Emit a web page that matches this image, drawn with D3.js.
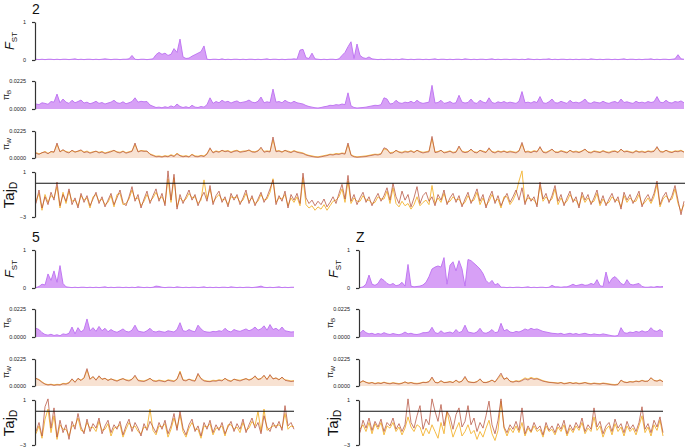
<!DOCTYPE html>
<html>
<head>
<meta charset="utf-8">
<script src="https://cdn.jsdelivr.net/npm/d3@7"></script>
<style>
body { margin: 0; background: #fff; }
svg { display: block; font-family: "Liberation Sans", Arial, sans-serif; }
.axis path, .axis line { stroke: #333; stroke-width: 1.2; }
.axis text { font-size: 5.5px; fill: #222; font-family: "Liberation Sans", Arial, sans-serif; }
</style>
</head>
<body>
<svg id="chart" width="685" height="448"></svg>
<script>
// ---- chromosome 2 ----
const fst2 = [
  0.02,0.01,0.02,0.01,0.02,0.02,0.01,0.02,0.01,0.02,
  0.02,0.01,0.02,0.03,0.01,0.02,0.01,0.02,0.02,0.01,
  0.02,0.01,0.02,0.03,0.02,0.01,0.02,0.02,0.01,0.02,
  0.02,0.03,0.12,0.02,0.01,0.02,0.02,0.01,0.02,0.03,
  0.14,0.2,0.15,0.18,0.12,0.15,0.3,0.2,0.55,0.08,
  0.04,0.05,0.1,0.14,0.18,0.22,0.37,0.02,0.01,0.02,
  0.02,0.01,0.03,0.01,0.02,0.01,0.02,0.02,0.01,0.02,
  0.01,0.02,0.02,0.01,0.02,0.01,0.02,0.03,0.01,0.02,
  0.02,0.01,0.02,0.01,0.02,0.02,0.03,0.02,0.26,0.28,
  0.06,0.04,0.18,0.03,0.02,0.01,0.02,0.01,0.02,0.02,
  0.01,0.03,0.12,0.2,0.35,0.48,0.04,0.42,0.12,0.06,
  0.04,0.08,0.03,0.02,0.01,0.02,0.01,0.02,0.02,0.01,
  0.02,0.01,0.03,0.02,0.01,0.02,0.01,0.02,0.02,0.01,
  0.02,0.01,0.02,0.03,0.01,0.02,0.02,0.01,0.02,0.01,
  0.02,0.02,0.01,0.03,0.02,0.01,0.02,0.01,0.02,0.02,
  0.01,0.02,0.03,0.01,0.02,0.01,0.02,0.02,0.01,0.02,
  0.02,0.01,0.02,0.01,0.03,0.02,0.01,0.02,0.01,0.02,
  0.02,0.03,0.01,0.02,0.01,0.02,0.02,0.01,0.02,0.01,
  0.02,0.01,0.02,0.02,0.01,0.03,0.02,0.01,0.02,0.01,
  0.02,0.02,0.01,0.02,0.01,0.02,0.03,0.01,0.02,0.02,
  0.01,0.02,0.01,0.02,0.02,0.03,0.01,0.02,0.01,0.02,
  0.02,0.01,0.02,0.03,0.14,0.03,0.02
];
const piB2 = [
  0.0040,0.0035,0.0050,0.0045,0.0038,0.0060,0.0055,0.0120,0.0050,0.0080,
  0.0055,0.0045,0.0070,0.0050,0.0060,0.0072,0.0048,0.0055,0.0042,0.0050,
  0.0062,0.0045,0.0052,0.0040,0.0048,0.0055,0.0070,0.0050,0.0045,0.0058,
  0.0042,0.0050,0.0060,0.0090,0.0055,0.0062,0.0058,0.0060,0.0032,0.0022,
  0.0012,0.0015,0.0010,0.0018,0.0012,0.0025,0.0015,0.0040,0.0020,0.0012,
  0.0018,0.0010,0.0030,0.0015,0.0012,0.0020,0.0015,0.0035,0.0090,0.0045,
  0.0060,0.0050,0.0070,0.0055,0.0062,0.0048,0.0058,0.0065,0.0050,0.0055,
  0.0060,0.0072,0.0055,0.0050,0.0062,0.0096,0.0050,0.0058,0.0052,0.0160,
  0.0055,0.0060,0.0050,0.0070,0.0055,0.0048,0.0062,0.0050,0.0045,0.0040,
  0.0028,0.0020,0.0015,0.0010,0.0008,0.0012,0.0018,0.0022,0.0030,0.0028,
  0.0035,0.0032,0.0040,0.0035,0.0130,0.0025,0.0012,0.0008,0.0010,0.0012,
  0.0015,0.0020,0.0025,0.0030,0.0028,0.0035,0.0090,0.0080,0.0040,0.0045,
  0.0070,0.0050,0.0045,0.0055,0.0050,0.0062,0.0048,0.0070,0.0052,0.0045,
  0.0050,0.0055,0.0190,0.0048,0.0052,0.0070,0.0045,0.0050,0.0060,0.0045,
  0.0050,0.0110,0.0055,0.0048,0.0052,0.0080,0.0050,0.0045,0.0070,0.0055,
  0.0048,0.0090,0.0052,0.0045,0.0058,0.0050,0.0060,0.0048,0.0055,0.0050,
  0.0045,0.0062,0.0140,0.0050,0.0055,0.0048,0.0060,0.0052,0.0100,0.0050,
  0.0045,0.0058,0.0080,0.0050,0.0048,0.0062,0.0052,0.0045,0.0070,0.0050,
  0.0055,0.0048,0.0060,0.0080,0.0050,0.0045,0.0058,0.0052,0.0048,0.0062,
  0.0050,0.0045,0.0055,0.0060,0.0048,0.0080,0.0052,0.0058,0.0050,0.0045,
  0.0062,0.0050,0.0055,0.0048,0.0060,0.0052,0.0058,0.0100,0.0055,0.0050,
  0.0070,0.0052,0.0048,0.0060,0.0055,0.0065,0.0050
];
const piW2 = [
  0.0040,0.0030,0.0045,0.0050,0.0035,0.0055,0.0048,0.0125,0.0050,0.0070,
  0.0050,0.0042,0.0065,0.0048,0.0058,0.0068,0.0045,0.0052,0.0040,0.0048,
  0.0058,0.0042,0.0050,0.0038,0.0045,0.0052,0.0065,0.0048,0.0042,0.0055,
  0.0040,0.0048,0.0055,0.0125,0.0050,0.0060,0.0055,0.0058,0.0030,0.0020,
  0.0010,0.0012,0.0008,0.0015,0.0010,0.0022,0.0012,0.0035,0.0018,0.0010,
  0.0015,0.0008,0.0028,0.0012,0.0010,0.0018,0.0012,0.0032,0.0085,0.0042,
  0.0055,0.0048,0.0065,0.0052,0.0058,0.0045,0.0055,0.0060,0.0048,0.0052,
  0.0056,0.0068,0.0050,0.0048,0.0058,0.0090,0.0048,0.0055,0.0050,0.0175,
  0.0052,0.0058,0.0048,0.0065,0.0052,0.0045,0.0058,0.0048,0.0042,0.0038,
  0.0025,0.0018,0.0012,0.0008,0.0006,0.0010,0.0015,0.0020,0.0028,0.0025,
  0.0032,0.0030,0.0038,0.0032,0.0125,0.0022,0.0010,0.0006,0.0008,0.0010,
  0.0012,0.0018,0.0022,0.0028,0.0025,0.0032,0.0085,0.0075,0.0038,0.0042,
  0.0065,0.0048,0.0042,0.0052,0.0048,0.0058,0.0045,0.0065,0.0050,0.0042,
  0.0048,0.0052,0.0180,0.0045,0.0050,0.0065,0.0042,0.0048,0.0056,0.0042,
  0.0048,0.0100,0.0052,0.0045,0.0050,0.0075,0.0048,0.0042,0.0065,0.0052,
  0.0045,0.0085,0.0050,0.0042,0.0055,0.0048,0.0056,0.0045,0.0052,0.0048,
  0.0042,0.0058,0.0130,0.0048,0.0052,0.0045,0.0056,0.0050,0.0095,0.0048,
  0.0042,0.0055,0.0075,0.0048,0.0045,0.0058,0.0050,0.0042,0.0065,0.0048,
  0.0052,0.0045,0.0056,0.0075,0.0048,0.0042,0.0055,0.0050,0.0045,0.0058,
  0.0048,0.0042,0.0052,0.0056,0.0045,0.0075,0.0050,0.0055,0.0048,0.0042,
  0.0058,0.0048,0.0052,0.0045,0.0056,0.0050,0.0055,0.0095,0.0052,0.0048,
  0.0065,0.0050,0.0045,0.0056,0.0052,0.0060,0.0048
];
const piW2Alt = [
  0.0045,0.0035,0.0042,0.0055,0.0040,0.0050,0.0052,0.0110,0.0055,0.0065,
  0.0055,0.0048,0.0060,0.0052,0.0055,0.0062,0.0050,0.0058,0.0045,0.0052,
  0.0055,0.0048,0.0055,0.0042,0.0050,0.0058,0.0060,0.0052,0.0048,0.0058,
  0.0045,0.0052,0.0060,0.0110,0.0055,0.0062,0.0060,0.0055,0.0035,0.0025,
  0.0015,0.0018,0.0012,0.0020,0.0015,0.0028,0.0018,0.0040,0.0022,0.0015,
  0.0020,0.0012,0.0032,0.0018,0.0015,0.0022,0.0018,0.0038,0.0075,0.0048,
  0.0060,0.0052,0.0060,0.0058,0.0062,0.0050,0.0060,0.0065,0.0052,0.0058,
  0.0060,0.0062,0.0055,0.0052,0.0062,0.0080,0.0055,0.0060,0.0055,0.0150,
  0.0058,0.0062,0.0052,0.0060,0.0058,0.0050,0.0062,0.0052,0.0048,0.0042,
  0.0030,0.0022,0.0018,0.0012,0.0010,0.0015,0.0020,0.0025,0.0032,0.0030,
  0.0038,0.0035,0.0042,0.0038,0.0110,0.0028,0.0015,0.0010,0.0012,0.0015,
  0.0018,0.0022,0.0028,0.0032,0.0030,0.0038,0.0075,0.0068,0.0045,0.0048,
  0.0060,0.0052,0.0048,0.0058,0.0052,0.0062,0.0050,0.0062,0.0055,0.0048,
  0.0052,0.0058,0.0160,0.0050,0.0055,0.0062,0.0048,0.0052,0.0060,0.0048,
  0.0052,0.0090,0.0058,0.0050,0.0055,0.0068,0.0052,0.0048,0.0062,0.0058,
  0.0050,0.0075,0.0055,0.0048,0.0060,0.0052,0.0060,0.0050,0.0058,0.0052,
  0.0048,0.0062,0.0115,0.0052,0.0058,0.0050,0.0062,0.0055,0.0085,0.0052,
  0.0048,0.0060,0.0070,0.0052,0.0050,0.0062,0.0055,0.0048,0.0062,0.0052,
  0.0058,0.0050,0.0060,0.0070,0.0052,0.0048,0.0060,0.0055,0.0050,0.0062,
  0.0052,0.0048,0.0058,0.0060,0.0050,0.0070,0.0055,0.0060,0.0052,0.0048,
  0.0062,0.0052,0.0058,0.0050,0.0060,0.0055,0.0060,0.0085,0.0058,0.0052,
  0.0062,0.0055,0.0050,0.0060,0.0058,0.0065,0.0052
];
const taj2 = [
  -1.8,-0.6,-2.2,-1.2,-1.9,-0.8,-1.5,0.1,-2.0,-1.0,
  -1.6,-0.5,-1.9,-1.3,-2.2,-0.9,-1.7,-1.1,-2.0,-1.4,
  -0.8,-1.8,-1.2,-2.1,-1.5,-0.9,-1.9,-1.3,-0.6,-1.7,
  -2.0,-1.2,-0.3,-1.6,-1.0,-2.2,-1.4,-0.7,-1.8,-1.1,
  -0.5,-1.6,-0.9,-2.0,1.1,-1.5,0.8,-2.3,-1.0,-1.8,
  -1.2,-0.6,-1.5,-1.0,-2.0,-1.3,-0.8,-1.6,-0.2,-1.9,
  -1.1,-0.7,-1.7,-1.2,-2.1,-0.9,-1.5,-1.0,-1.9,-1.3,
  -0.6,-1.8,-1.1,-2.0,-1.4,-0.8,-1.7,-1.2,-0.5,0.3,
  -1.9,-1.1,-1.6,-0.7,-2.2,-1.0,-1.5,-0.9,-1.8,0.9,
  -1.3,-1.8,-1.5,-2.0,-1.6,-1.9,-1.4,-2.1,-1.7,-1.2,
  -1.8,-0.9,-0.1,-1.4,0.7,-1.6,-1.0,-1.9,-1.3,-0.8,
  -1.7,-1.2,-2.0,-1.4,-0.9,-1.6,-1.1,-0.4,-1.5,0.0,
  -1.2,-1.8,-0.7,-1.5,-1.0,-2.1,-1.3,-0.3,-1.8,-1.1,
  -0.8,-1.6,-1.2,-2.0,-1.0,-1.5,-0.6,-1.9,-1.3,-0.9,
  -1.7,-1.1,-2.1,-1.4,-0.8,-1.8,-1.2,-0.5,-1.6,-1.0,
  -2.2,-1.3,-0.7,-1.8,-1.1,-2.0,-1.4,-0.9,-1.7,-1.2,
  -0.6,-1.5,-0.4,-1.9,-1.0,-1.6,-1.2,-2.1,0.1,-1.4,
  -0.9,-1.8,-1.1,-0.2,-1.6,-1.0,-2.0,-1.3,-0.7,-1.7,
  -1.2,-2.2,-0.8,-1.5,-1.0,-1.9,-1.3,-0.6,-1.8,-1.1,
  -2.0,-1.4,-0.9,-1.7,-1.2,-2.3,-0.8,-1.5,-1.0,-1.8,
  -1.3,-0.7,-2.1,-1.4,-1.0,-1.6,-0.9,0.2,-1.9,-1.2,
  -0.8,-1.7,-1.1,-0.2,-1.5,-2.8,-1.6
];
const taj2Alt = [
  -1.6,-0.9,-2.4,-1.0,-1.7,-1.1,-1.3,-0.3,-2.2,-0.8,
  -1.8,-0.7,-1.6,-1.5,-2.0,-1.1,-1.5,-1.3,-2.2,-1.2,
  -1.0,-1.6,-1.4,-1.9,-1.7,-1.1,-2.1,-1.0,-0.9,-1.9,
  -1.8,-1.4,-0.6,-1.4,-1.3,-2.0,-1.6,-1.0,-1.6,-1.3,
  -0.8,-1.4,-1.2,-1.8,0.4,-1.7,0.5,-2.1,-1.3,-1.6,
  -1.4,-0.9,-1.3,-1.2,-1.8,-1.5,0.3,-1.4,-0.5,-1.7,
  -1.3,-1.0,-1.5,-1.4,-1.9,-1.2,-1.3,-1.2,-1.7,-1.5,
  -0.9,-1.6,-1.3,-1.8,-1.6,-1.0,-1.5,-1.4,-0.8,0.4,
  -1.7,-1.3,-1.4,-1.0,-2.0,-1.3,-1.7,-1.2,-2.0,0.5,
  -1.9,-2.2,-2.0,-2.4,-2.1,-2.3,-1.9,-2.4,-2.0,-1.6,
  -1.5,-1.2,-0.5,-1.7,0.2,-1.8,-1.3,-1.6,-1.6,-1.1,
  -1.5,-1.5,-1.8,-1.7,-1.2,-1.4,-1.4,-0.7,-1.8,-0.4,
  -1.8,-2.1,-1.6,-2.0,-1.8,-2.3,-1.9,-1.2,-2.0,-1.7,
  -1.5,-1.9,-0.2,-1.8,-1.3,-1.7,-0.9,-1.7,-1.6,-1.2,
  -1.5,-1.4,-1.9,-1.7,-1.1,-1.6,-1.5,-0.8,-1.9,-1.3,
  -2.0,-1.6,-1.0,-1.6,-1.4,-2.2,-1.2,-1.2,-1.9,-1.5,
  -0.9,0.2,1.1,-1.7,-1.3,-1.4,-1.5,-1.9,-0.2,-1.6,
  -1.2,-1.6,-1.4,-0.5,-1.9,-1.3,-1.8,-1.6,-1.0,-1.5,
  -1.5,-2.0,-1.1,-1.7,-1.3,-1.7,-1.6,-0.9,-2.0,-1.4,
  -1.8,-1.7,-1.2,-1.5,-1.5,-2.1,-1.1,-1.7,-1.3,-1.6,
  -1.6,-1.0,-1.9,-1.7,-1.3,-1.8,-1.2,-0.1,-2.1,-1.4,
  -1.1,-1.5,-1.4,-0.5,-1.8,-2.5,-1.9
];

// ---- chromosome 5 ----
const fst5 = [
  0.01,0.04,0.1,0.08,0.37,0.2,0.45,0.15,0.59,0.12,
  0.03,0.02,0.01,0.02,0.01,0.02,0.02,0.01,0.02,0.01,
  0.02,0.01,0.02,0.03,0.01,0.02,0.01,0.02,0.02,0.01,
  0.02,0.01,0.02,0.01,0.03,0.02,0.01,0.02,0.01,0.02,
  0.05,0.04,0.02,0.01,0.02,0.02,0.01,0.03,0.02,0.01,
  0.02,0.01,0.02,0.02,0.01,0.02,0.03,0.01,0.02,0.01,
  0.02,0.01,0.02,0.02,0.01,0.03,0.02,0.01,0.02,0.01,
  0.02,0.02,0.01,0.02,0.03,0.05,0.02,0.01,0.02,0.01,
  0.02,0.03,0.01,0.02,0.01,0.02,0.02
];
const piB5 = [
  0.0070,0.0060,0.0035,0.0020,0.0015,0.0022,0.0012,0.0018,0.0010,0.0025,
  0.0020,0.0030,0.0080,0.0025,0.0075,0.0040,0.0060,0.0145,0.0050,0.0075,
  0.0045,0.0085,0.0050,0.0070,0.0042,0.0060,0.0045,0.0038,0.0050,0.0065,
  0.0045,0.0040,0.0055,0.0095,0.0048,0.0042,0.0038,0.0050,0.0070,0.0045,
  0.0040,0.0048,0.0042,0.0038,0.0050,0.0045,0.0040,0.0060,0.0115,0.0050,
  0.0045,0.0060,0.0048,0.0042,0.0095,0.0065,0.0045,0.0040,0.0038,0.0045,
  0.0042,0.0050,0.0045,0.0070,0.0048,0.0040,0.0060,0.0050,0.0045,0.0055,
  0.0065,0.0050,0.0060,0.0080,0.0055,0.0065,0.0090,0.0055,0.0100,0.0060,
  0.0070,0.0052,0.0080,0.0050,0.0045,0.0040,0.0042
];
const piW5 = [
  0.0065,0.0050,0.0030,0.0015,0.0008,0.0012,0.0005,0.0010,0.0008,0.0018,
  0.0015,0.0025,0.0060,0.0030,0.0065,0.0045,0.0070,0.0145,0.0055,0.0080,
  0.0048,0.0085,0.0055,0.0065,0.0045,0.0060,0.0048,0.0040,0.0052,0.0062,
  0.0048,0.0042,0.0055,0.0090,0.0045,0.0040,0.0038,0.0048,0.0065,0.0042,
  0.0038,0.0045,0.0040,0.0035,0.0048,0.0042,0.0038,0.0058,0.0115,0.0048,
  0.0042,0.0058,0.0045,0.0040,0.0105,0.0060,0.0042,0.0038,0.0036,0.0042,
  0.0040,0.0048,0.0042,0.0065,0.0045,0.0038,0.0058,0.0048,0.0042,0.0052,
  0.0062,0.0048,0.0058,0.0085,0.0052,0.0062,0.0090,0.0052,0.0095,0.0058,
  0.0068,0.0050,0.0075,0.0048,0.0042,0.0038,0.0040
];
const piW5Alt = [
  0.0060,0.0055,0.0035,0.0018,0.0012,0.0015,0.0010,0.0014,0.0012,0.0022,
  0.0020,0.0030,0.0055,0.0035,0.0060,0.0050,0.0065,0.0130,0.0060,0.0075,
  0.0052,0.0078,0.0058,0.0062,0.0050,0.0058,0.0052,0.0045,0.0055,0.0060,
  0.0052,0.0048,0.0058,0.0080,0.0050,0.0045,0.0042,0.0052,0.0060,0.0048,
  0.0042,0.0050,0.0045,0.0040,0.0052,0.0048,0.0042,0.0055,0.0125,0.0052,
  0.0048,0.0055,0.0050,0.0045,0.0095,0.0065,0.0048,0.0042,0.0040,0.0048,
  0.0045,0.0052,0.0048,0.0060,0.0050,0.0042,0.0055,0.0052,0.0048,0.0055,
  0.0060,0.0052,0.0062,0.0078,0.0058,0.0060,0.0085,0.0058,0.0088,0.0062,
  0.0065,0.0055,0.0070,0.0052,0.0048,0.0042,0.0045
];
const taj5 = [
  -1.8,-1.0,-2.2,0.4,1.1,-1.5,0.3,-2.3,-0.8,-1.9,
  -1.2,-2.5,-0.9,-1.6,-0.2,-1.4,-2.0,-0.7,-1.8,-1.1,
  -1.5,-0.6,-2.0,-1.3,-0.8,-1.9,-1.2,-1.6,-0.9,-2.1,
  -1.3,-0.7,-1.8,-1.0,-1.5,-2.2,-1.1,-1.7,-0.9,-1.4,
  -1.9,-1.0,-1.6,-0.8,-2.0,-1.3,-0.2,-1.7,0.0,-1.5,
  -2.1,-1.2,-0.7,-1.8,-1.3,-2.2,-1.0,-1.6,-0.8,-1.9,
  -1.2,-1.7,-1.0,-2.0,-1.4,-0.9,-1.8,-1.1,-1.6,-0.7,
  -1.9,-1.2,-0.6,-1.5,-1.0,-2.0,-0.4,-1.4,-1.8,-1.0,
  -1.5,-0.9,-1.7,0.5,-1.3,-1.0,-1.6
];
const taj5Alt = [
  -2.0,-1.3,-2.4,-0.7,0.2,-1.9,-0.4,-2.5,-1.2,-1.6,
  -1.6,-2.2,-1.3,-1.3,-0.6,-1.7,-1.8,-1.0,-1.5,-1.4,
  -1.8,-0.9,-1.7,-1.6,-1.1,-2.2,-1.5,-1.4,-1.2,-2.3,
  -1.6,-1.0,-1.5,-1.3,-1.8,-2.0,-1.4,-1.5,0.2,-1.7,
  -2.1,-1.3,-1.4,-1.1,-2.3,-1.6,-0.6,-1.5,-0.3,-1.8,
  -2.3,-1.5,-1.0,-1.6,-1.6,-2.4,-1.3,-1.4,-1.1,-2.1,
  -1.5,-1.5,-1.3,-2.2,-1.2,-1.2,-1.6,-1.4,-1.9,-1.0,
  -1.7,-1.5,-0.9,-1.3,0.0,-1.8,0.2,-1.7,-1.5,-1.3,
  -1.3,-1.2,-1.5,-0.2,-1.6,-1.3,-1.4
];

// ---- chromosome Z ----
const fstZ = [
  0.01,0.03,0.1,0.34,0.1,0.07,0.12,0.25,0.2,0.12,
  0.08,0.12,0.06,0.08,0.15,0.05,0.62,0.05,0.03,0.04,
  0.05,0.08,0.15,0.3,0.5,0.55,0.58,0.55,0.8,0.1,
  0.6,0.69,0.45,0.72,0.5,0.05,0.75,0.72,0.65,0.58,
  0.5,0.38,0.2,0.12,0.2,0.08,0.12,0.02,0.02,0.01,
  0.02,0.01,0.02,0.02,0.01,0.02,0.03,0.01,0.02,0.01,
  0.02,0.02,0.01,0.02,0.07,0.03,0.03,0.02,0.03,0.03,
  0.06,0.1,0.06,0.08,0.1,0.07,0.08,0.12,0.09,0.22,
  0.06,0.04,0.42,0.12,0.25,0.3,0.22,0.12,0.08,0.22,
  0.1,0.08,0.1,0.12,0.04,0.02,0.02,0.03,0.02,0.04,
  0.03,0.04
];
const piBZ = [
  0.0030,0.0055,0.0035,0.0025,0.0030,0.0020,0.0028,0.0022,0.0035,0.0025,
  0.0020,0.0028,0.0022,0.0018,0.0025,0.0040,0.0025,0.0030,0.0022,0.0020,
  0.0025,0.0035,0.0035,0.0040,0.0078,0.0035,0.0028,0.0050,0.0030,0.0035,
  0.0040,0.0030,0.0060,0.0035,0.0045,0.0095,0.0040,0.0035,0.0030,0.0040,
  0.0070,0.0035,0.0030,0.0040,0.0060,0.0035,0.0040,0.0110,0.0050,0.0060,
  0.0040,0.0035,0.0045,0.0040,0.0050,0.0065,0.0055,0.0070,0.0060,0.0065,
  0.0055,0.0045,0.0040,0.0035,0.0030,0.0028,0.0025,0.0030,0.0020,0.0025,
  0.0030,0.0022,0.0028,0.0020,0.0025,0.0030,0.0022,0.0018,0.0025,0.0020,
  0.0018,0.0025,0.0020,0.0015,0.0010,0.0008,0.0012,0.0075,0.0035,0.0030,
  0.0040,0.0035,0.0045,0.0038,0.0050,0.0040,0.0045,0.0075,0.0050,0.0045,
  0.0060,0.0040
];
const piWZ = [
  0.0028,0.0045,0.0030,0.0022,0.0028,0.0018,0.0025,0.0020,0.0030,0.0022,
  0.0018,0.0025,0.0020,0.0016,0.0022,0.0035,0.0022,0.0028,0.0020,0.0018,
  0.0022,0.0030,0.0028,0.0035,0.0075,0.0030,0.0025,0.0045,0.0028,0.0030,
  0.0035,0.0028,0.0050,0.0030,0.0040,0.0080,0.0035,0.0030,0.0028,0.0035,
  0.0060,0.0030,0.0028,0.0035,0.0050,0.0032,0.0070,0.0107,0.0055,0.0070,
  0.0038,0.0032,0.0040,0.0035,0.0045,0.0060,0.0050,0.0065,0.0055,0.0060,
  0.0050,0.0040,0.0035,0.0030,0.0028,0.0025,0.0022,0.0028,0.0018,0.0022,
  0.0028,0.0020,0.0025,0.0018,0.0022,0.0028,0.0020,0.0016,0.0022,0.0018,
  0.0016,0.0022,0.0018,0.0014,0.0010,0.0008,0.0012,0.0050,0.0032,0.0028,
  0.0035,0.0032,0.0040,0.0035,0.0045,0.0038,0.0040,0.0070,0.0045,0.0040,
  0.0050,0.0035
];
const piWZAlt = [
  0.0030,0.0040,0.0032,0.0025,0.0030,0.0022,0.0028,0.0024,0.0032,0.0025,
  0.0022,0.0028,0.0024,0.0020,0.0025,0.0032,0.0025,0.0030,0.0024,0.0022,
  0.0025,0.0032,0.0030,0.0038,0.0065,0.0032,0.0028,0.0040,0.0030,0.0032,
  0.0038,0.0030,0.0045,0.0032,0.0042,0.0070,0.0038,0.0032,0.0030,0.0038,
  0.0055,0.0032,0.0030,0.0038,0.0048,0.0035,0.0062,0.0090,0.0058,0.0065,
  0.0042,0.0035,0.0045,0.0040,0.0052,0.0068,0.0058,0.0072,0.0062,0.0065,
  0.0055,0.0045,0.0038,0.0032,0.0030,0.0028,0.0025,0.0030,0.0022,0.0025,
  0.0030,0.0024,0.0028,0.0022,0.0025,0.0030,0.0024,0.0020,0.0025,0.0022,
  0.0020,0.0025,0.0022,0.0018,0.0014,0.0012,0.0016,0.0045,0.0035,0.0030,
  0.0038,0.0035,0.0042,0.0038,0.0048,0.0040,0.0042,0.0065,0.0048,0.0042,
  0.0052,0.0038
];
const tajZ = [
  -1.9,-0.8,-1.5,-0.6,-1.7,-0.9,-1.4,-0.7,-1.8,-1.0,
  -1.3,-0.6,-1.6,-1.1,-1.8,-1.2,1.1,-1.0,-1.5,-0.4,
  0.5,-1.6,-0.7,-1.2,1.1,0.0,-0.9,0.6,-1.3,0.0,
  -0.5,-1.6,-0.3,0.3,-1.4,-0.9,0.5,-1.2,-0.6,-1.8,
  -1.0,-1.5,-0.4,0.9,-1.2,-2.0,-0.8,1.1,-1.4,-1.9,
  -1.2,-1.6,-0.9,-1.7,0.3,-2.0,-1.3,-1.8,-1.0,-1.6,
  -1.3,-2.1,-1.0,-1.7,-1.3,-1.9,-1.1,-1.6,-0.8,-2.0,
  -1.2,-1.7,-1.0,-1.5,-0.6,-1.8,-1.2,-1.6,0.3,-1.4,
  -0.9,-2.0,-1.3,-1.0,-1.8,-0.7,-1.5,-1.1,-1.9,-0.9,
  -1.6,-1.2,-1.8,-1.0,0.4,-1.6,-1.1,-1.9,-0.8,-1.4,
  -0.5,-1.9
];
const tajZAlt = [
  -1.6,-1.2,-1.8,-1.0,-2.0,-1.1,-1.6,-1.0,-2.1,-1.3,
  -1.5,-1.0,-1.8,-1.4,-2.1,-1.5,-0.5,-1.4,-1.8,-1.2,
  -1.4,-2.2,-1.5,-2.0,-1.2,-1.8,-2.4,-1.0,-2.0,0.0,
  -1.2,-2.3,-1.6,-1.0,-2.2,-1.8,-1.2,-2.0,-1.7,-2.5,
  -1.8,-2.3,-1.5,-0.8,-2.0,-2.6,-1.7,0.9,-1.5,-2.2,
  -1.5,-1.9,-1.3,-1.9,-1.0,-2.2,-1.5,-1.9,-1.3,-1.8,
  -1.6,-2.3,-1.3,-1.8,-1.6,-2.1,-1.4,-1.8,-1.2,-2.2,
  -1.5,-1.9,-1.3,-1.7,-1.0,-2.0,-1.5,-1.8,-0.5,-1.7,
  -1.3,-2.3,-1.6,-1.3,-2.1,-1.1,-1.8,-1.4,-2.2,-1.3,
  -1.8,-1.5,-2.1,-1.3,-0.4,-1.9,-1.4,-2.2,-1.2,-1.7,
  -0.8,-2.2
];

// axis ends
const fstTicks = [0, 1];
const piTicks = [0, 0.0225];
const tajTicks = [-3, 1];

const svg = d3.select("#chart");

const purpleFill = "#d7a0f6",
    purpleLine = "#bb6ff0",
    peachFill = "#f8e2d2",
    brown = "#b4503c",
    yellow = "#f5bb45";

const panels = [
    {name: "2", fst: fst2, piB: piB2, piW: piW2, piWAlt: piW2Alt, taj: taj2, tajAlt: taj2Alt, x0: 36, x1: 684, right: 685, top: 0},
    {name: "5", fst: fst5, piB: piB5, piW: piW5, piWAlt: piW5Alt, taj: taj5, tajAlt: taj5Alt, x0: 36, x1: 294, right: 294, top: 228},
    {name: "Z", fst: fstZ, piB: piBZ, piW: piWZ, piWAlt: piWZAlt, taj: tajZ, tajAlt: tajZAlt, x0: 360, x1: 663, right: 663, top: 228},
];

function yAxis(g, p, y, ticks, fmt) {
    g.append("g")
        .attr("class", "axis")
        .attr("transform", `translate(${p.x0 - 1},0)`)
        .call(d3.axisLeft(y).tickValues(ticks).tickSize(3).tickSizeOuter(0).tickPadding(6).tickFormat(fmt));
}

function rotatedLabel(g, x, y, main, sub, mainSize, subSize, subDy, italicMain) {
    const t = g.append("text")
        .attr("transform", `translate(${x},${y}) rotate(-90)`)
        .attr("text-anchor", "middle")
        .attr("fill", "#111");
    t.append("tspan").attr("font-size", mainSize).attr("font-style", italicMain ? "italic" : "normal").text(main);
    t.append("tspan").attr("font-size", subSize).attr("dy", subDy).text(sub);
}

function drawPanel(p) {
    const g = svg.append("g").attr("transform", `translate(0,${p.top})`);
    const xFor = arr => d3.scaleLinear().domain([0, arr.length - 1]).range([p.x0, p.x1]);

    g.append("text")
        .attr("x", p.x0 - 4)
        .attr("y", 14)
        .attr("font-size", 14)
        .attr("fill", "#111")
        .text(p.name);

    // FST
    const yF = d3.scaleLinear().domain([0, 1]).range([60, 22]);
    const xF = xFor(p.fst);
    g.append("path").datum(p.fst)
        .attr("fill", purpleFill)
        .attr("d", d3.area().x((d, i) => xF(i)).y0(yF(0)).y1(d => yF(d)));
    g.append("path").datum(p.fst)
        .attr("fill", "none").attr("stroke", purpleLine).attr("stroke-width", 0.9)
        .attr("d", d3.line().x((d, i) => xF(i)).y(d => yF(d)));
    yAxis(g, p, yF, fstTicks, d3.format("d"));
    rotatedLabel(g, p.x0 - 22, 41, "F", "ST", 13, 8, 3, true);

    // pi B
    const yB = d3.scaleLinear().domain([0, 0.0225]).range([109, 81]);
    const xB = xFor(p.piB);
    g.append("path").datum(p.piB)
        .attr("fill", purpleFill)
        .attr("d", d3.area().x((d, i) => xB(i)).y0(yB(0)).y1(d => yB(d)));
    g.append("path").datum(p.piB)
        .attr("fill", "none").attr("stroke", purpleLine).attr("stroke-width", 0.9)
        .attr("d", d3.line().x((d, i) => xB(i)).y(d => yB(d)));
    yAxis(g, p, yB, piTicks, d3.format(".4f"));
    rotatedLabel(g, p.x0 - 27, 95, "π", "B", 9, 6, 2, false);

    // pi W
    const yW = d3.scaleLinear().domain([0, 0.0225]).range([158, 131]);
    const xW = xFor(p.piW), xW2 = xFor(p.piWAlt);
    g.append("path").datum(p.piW)
        .attr("fill", peachFill)
        .attr("d", d3.area().x((d, i) => xW(i)).y0(yW(0)).y1(d => yW(d)));
    g.append("path").datum(p.piWAlt)
        .attr("fill", "none").attr("stroke", yellow).attr("stroke-width", 0.9)
        .attr("d", d3.line().x((d, i) => xW2(i)).y(d => yW(d)));
    g.append("path").datum(p.piW)
        .attr("fill", "none").attr("stroke", brown).attr("stroke-width", 0.9).attr("stroke-opacity", 0.8)
        .attr("d", d3.line().x((d, i) => xW(i)).y(d => yW(d)));
    yAxis(g, p, yW, piTicks, d3.format(".4f"));
    rotatedLabel(g, p.x0 - 27, 144, "π", "W", 9, 6, 2, false);

    // Tajima's D
    const yT = d3.scaleLinear().domain([-3, 1]).range([217, 172]);
    const xT = xFor(p.taj), xT2 = xFor(p.tajAlt);
    g.append("path").datum(p.tajAlt)
        .attr("fill", "none").attr("stroke", yellow).attr("stroke-width", 1)
        .attr("d", d3.line().x((d, i) => xT2(i)).y(d => yT(d)));
    g.append("path").datum(p.taj)
        .attr("fill", "none").attr("stroke", brown).attr("stroke-width", 1).attr("stroke-opacity", 0.75)
        .attr("d", d3.line().x((d, i) => xT(i)).y(d => yT(d)));
    g.append("line")
        .attr("x1", p.x0 - 1).attr("x2", p.right)
        .attr("y1", yT(0)).attr("y2", yT(0))
        .attr("stroke", "#111").attr("stroke-width", 1.2);
    yAxis(g, p, yT, tajTicks, d3.format("d"));
    rotatedLabel(g, p.x0 - 22, 195, "Taj", "D", 15, 10, 3, false);
}

panels.forEach(drawPanel);
</script>
</body>
</html>
